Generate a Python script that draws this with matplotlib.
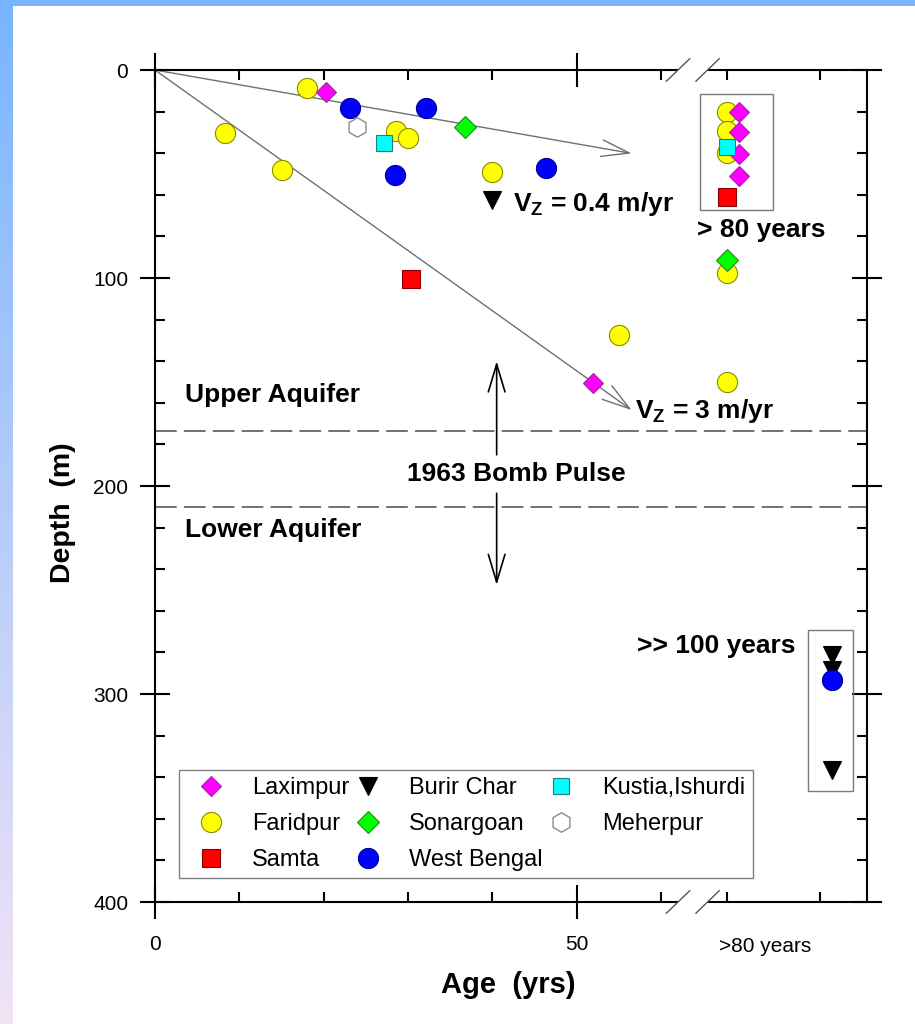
import numpy as np
import matplotlib
matplotlib.use("Agg")
import matplotlib.pyplot as plt
from matplotlib.patches import Rectangle

plt.rcParams["font.family"] = ["Liberation Sans", "DejaVu Sans"]
plt.rcParams["mathtext.fontset"] = "custom"
plt.rcParams["mathtext.rm"] = "Liberation Sans"
plt.rcParams["mathtext.bf"] = "Liberation Sans:bold"

# Columns used past the axis break for samples older than the dated range
OLD_80 = 67.8      # "> 80 years"
OLD_100 = 80.2     # ">> 100 years"
SIDE = 1.4         # small sideways shift so stacked symbols stay visible

# ---- tritium / helium ages (yrs) and sample depths (m) by site ----
laximpur_age = [20.3, 51.9, OLD_80 + SIDE, OLD_80 + SIDE, OLD_80 + SIDE, OLD_80 + SIDE]
laximpur_depth = [10.4, 150.3, 20.0, 29.7, 40.4, 50.8]

faridpur_age = [8.3, 15.0, 18.0, 28.6, 30.0, 40.0, 55.0,
                OLD_80, OLD_80, OLD_80, OLD_80, OLD_80]
faridpur_depth = [30.1, 48.1, 8.8, 29.2, 32.8, 49.2, 127.4,
                  20.0, 29.3, 40.0, 97.4, 149.8]

samta_age = [30.4, OLD_80]
samta_depth = [100.6, 61.2]

burirchar_age = [40.0, OLD_100, OLD_100, OLD_100]
burirchar_depth = [62.5, 281.3, 288.5, 336.5]

sonargoan_age = [36.7, OLD_80]
sonargoan_depth = [27.2, 91.3]

westbengal_age = [23.1, 28.4, 32.1, 46.3, OLD_100]
westbengal_depth = [18.4, 50.5, 18.4, 47.3, 293.3]

kustia_age = [27.2, OLD_80]
kustia_depth = [35.3, 36.9]

meherpur_age = [24.0]
meherpur_depth = [27.6]

# flow-velocity guide lines (end point of each arrow: age, depth)
slow_line = (56.5, 40.1)
fast_line = (56.5, 163.5)

# aquifer boundary and bomb-pulse depth window
aquifer_top = 173.6
aquifer_bottom = 210.0

x_major = [0, 50]
x_major_labels = ["0", "50"]
x_minor = [10, 20, 30, 40, 60, OLD_80, 78.8]
y_major = [0, 100, 200, 300, 400]
y_minor = [d for d in range(20, 400, 20) if d % 100]

X_MAX = 84.4
BREAK = (62.0, 65.5)

fig = plt.figure(figsize=(9.15, 10.24), dpi=100)
fig.patch.set_facecolor("white")

# slide frame: blue band on top, blue-to-lilac band on the left
bg = fig.add_axes([0, 0, 1, 1], zorder=-5)
bg.set_axis_off()
bg.set_xlim(0, 1)
bg.set_ylim(0, 1)
top_c = np.array([0.47, 0.71, 1.0])
bot_c = np.array([0.95, 0.89, 0.965])
t = np.linspace(0, 1, 256)[:, None, None]
grad = top_c * (1 - t) + bot_c * t
bg.imshow(grad, extent=(0, 13 / 915, 0, 1), aspect="auto", origin="upper")
bg.add_patch(Rectangle((0, 1 - 6 / 1024), 1, 6 / 1024, color=top_c, lw=0))

ax = fig.add_axes([155 / 915, 1 - 902 / 1024, 712 / 915, 832 / 1024])
ax.patch.set_alpha(0)
ax.set_xlim(0, X_MAX)
ax.set_ylim(400, 0)

# frame: side spines kept, top and bottom drawn with a gap for the break
for s in ("top", "bottom"):
    ax.spines[s].set_visible(False)
for s in ("left", "right"):
    ax.spines[s].set_linewidth(1.5)
for yv in (0, 400):
    ax.plot([0, BREAK[0]], [yv, yv], color="black", lw=1.5, clip_on=False,
            solid_capstyle="butt", zorder=5)
    ax.plot([BREAK[1], X_MAX], [yv, yv], color="black", lw=1.5, clip_on=False,
            solid_capstyle="butt", zorder=5)
    for xc in BREAK:
        ax.plot([xc - 1.38, xc + 1.38], [yv + 5.4, yv - 5.4], color="#555555",
                lw=1.0, clip_on=False, zorder=5)

ax.set_xticks(x_major)
ax.set_xticklabels(x_major_labels)
ax.set_xticks(x_minor, minor=True)
ax.set_yticks(y_major)
ax.set_yticks(y_minor, minor=True)
ax.tick_params(axis="x", which="major", direction="inout", length=25, width=1.5,
               top=True, bottom=True, labelsize=15, pad=11)
ax.tick_params(axis="y", which="major", direction="inout", length=21.6, width=1.5,
               left=True, right=True, labelsize=15, pad=8.5)
ax.tick_params(which="minor", direction="in", length=7.2, width=1.5,
               top=True, bottom=True, left=True, right=True)
ax.text(72.3, -0.0535, ">80 years", transform=ax.get_xaxis_transform(),
        ha="center", va="center", fontsize=15)

ax.set_xlabel("Age  (yrs)", fontsize=21, fontweight="bold", va="baseline")
ax.xaxis.set_label_coords(0.4958, (902 - 993) / 832)
ax.set_ylabel("Depth  (m)", fontsize=20.5, fontweight="bold", va="baseline")
ax.yaxis.set_label_coords(-0.1194, 0.4675)

# bomb-pulse aquifer boundaries
for d in (aquifer_top, aquifer_bottom):
    ax.axhline(d, color="#666666", lw=1.3, dashes=(12, 4), zorder=1)

# velocity guide arrows
guide = dict(arrowstyle="->,head_length=1.0,head_width=0.3", color="#707070",
             lw=1.0, shrinkA=0, shrinkB=0, mutation_scale=20)
ax.annotate("", xy=slow_line, xytext=(0, 0), arrowprops=guide, zorder=2)
ax.annotate("", xy=fast_line, xytext=(0, 0), arrowprops=guide, zorder=2)

pulse = dict(arrowstyle="->,head_length=1.0,head_width=0.3", color="black",
             lw=1.2, shrinkA=0, shrinkB=0, mutation_scale=20)
ax.annotate("", xy=(40.5, 140.0), xytext=(40.5, 185.0), arrowprops=pulse)
ax.annotate("", xy=(40.5, 247.6), xytext=(40.5, 203.5), arrowprops=pulse)

# boxes around the old-water groups
ax.add_patch(Rectangle((64.6, 11.7), 8.6, 55.6, fill=False, ec="#7a7a7a", lw=1.0, zorder=2))
ax.add_patch(Rectangle((77.4, 269.0), 5.3, 77.5, fill=False, ec="#7a7a7a", lw=1.0, zorder=2))

bold = dict(fontsize=19, fontweight="bold")
ax.text(3.55, 159.8, "Upper Aquifer", ha="left", va="baseline", **bold)
ax.text(3.5, 224.4, "Lower Aquifer", ha="left", va="baseline", **bold)
ax.text(42.8, 197.4, "1963 Bomb Pulse", ha="center", va="baseline", **bold)
ax.text(42.4, 67.8, r"V$_{\mathbf{Z}}$ = 0.4 m/yr", ha="left", va="baseline", **bold)
ax.text(56.9, 167.5, r"V$_{\mathbf{Z}}$ = 3 m/yr", ha="left", va="baseline", **bold)
ax.text(71.9, 80.1, "> 80 years", ha="center", va="baseline", **bold)
ax.text(66.5, 280.4, ">> 100 years", ha="center", va="baseline", **bold)

# sample points
far, = ax.plot(faridpur_age, faridpur_depth, ls="none", marker="o", ms=14.5,
               mfc="#ffff00", mec="#8a8a00", mew=0.8, zorder=3, label="Faridpur")
bur, = ax.plot(burirchar_age, burirchar_depth, ls="none", marker="v", ms=13.5,
               mfc="black", mec="black", mew=0.8, zorder=3, label="Burir Char")
lax, = ax.plot(laximpur_age, laximpur_depth, ls="none", marker="D", ms=10.5,
               mfc="#ff00ff", mec="#9a2a9a", mew=0.8, zorder=4, label="Laximpur")
sam, = ax.plot(samta_age, samta_depth, ls="none", marker="s", ms=12.5,
               mfc="#ff0000", mec="#8a0000", mew=0.8, zorder=4, label="Samta")
son, = ax.plot(sonargoan_age, sonargoan_depth, ls="none", marker="D", ms=11.5,
               mfc="#00ff00", mec="#1f8a1f", mew=0.8, zorder=4, label="Sonargoan")
wb, = ax.plot(westbengal_age, westbengal_depth, ls="none", marker="o", ms=14.5,
              mfc="#0000ff", mec="#00008a", mew=0.8, zorder=4, label="West Bengal")
kus, = ax.plot(kustia_age, kustia_depth, ls="none", marker="s", ms=12,
               mfc="#00ffff", mec="#1f7f7f", mew=0.8, zorder=4, label="Kustia,Ishurdi")
meh, = ax.plot(meherpur_age, meherpur_depth, ls="none", marker="h", ms=14,
               mfc="white", mec="#8a8a8a", mew=1.0, zorder=4, label="Meherpur")

leg = ax.legend(handles=[lax, far, sam, bur, son, wb, kus, meh], ncol=3,
                loc="upper left", bbox_to_anchor=((179 - 155) / 712, (902 - 770) / 832),
                borderaxespad=0, fontsize=17, handlelength=2.12, handletextpad=0.68,
                columnspacing=-0.27, borderpad=0.3, labelspacing=0.59,
                fancybox=False, framealpha=1, edgecolor="#808080")
leg.get_frame().set_linewidth(1.0)

fig.savefig("out.png", dpi=100, facecolor=fig.get_facecolor())
